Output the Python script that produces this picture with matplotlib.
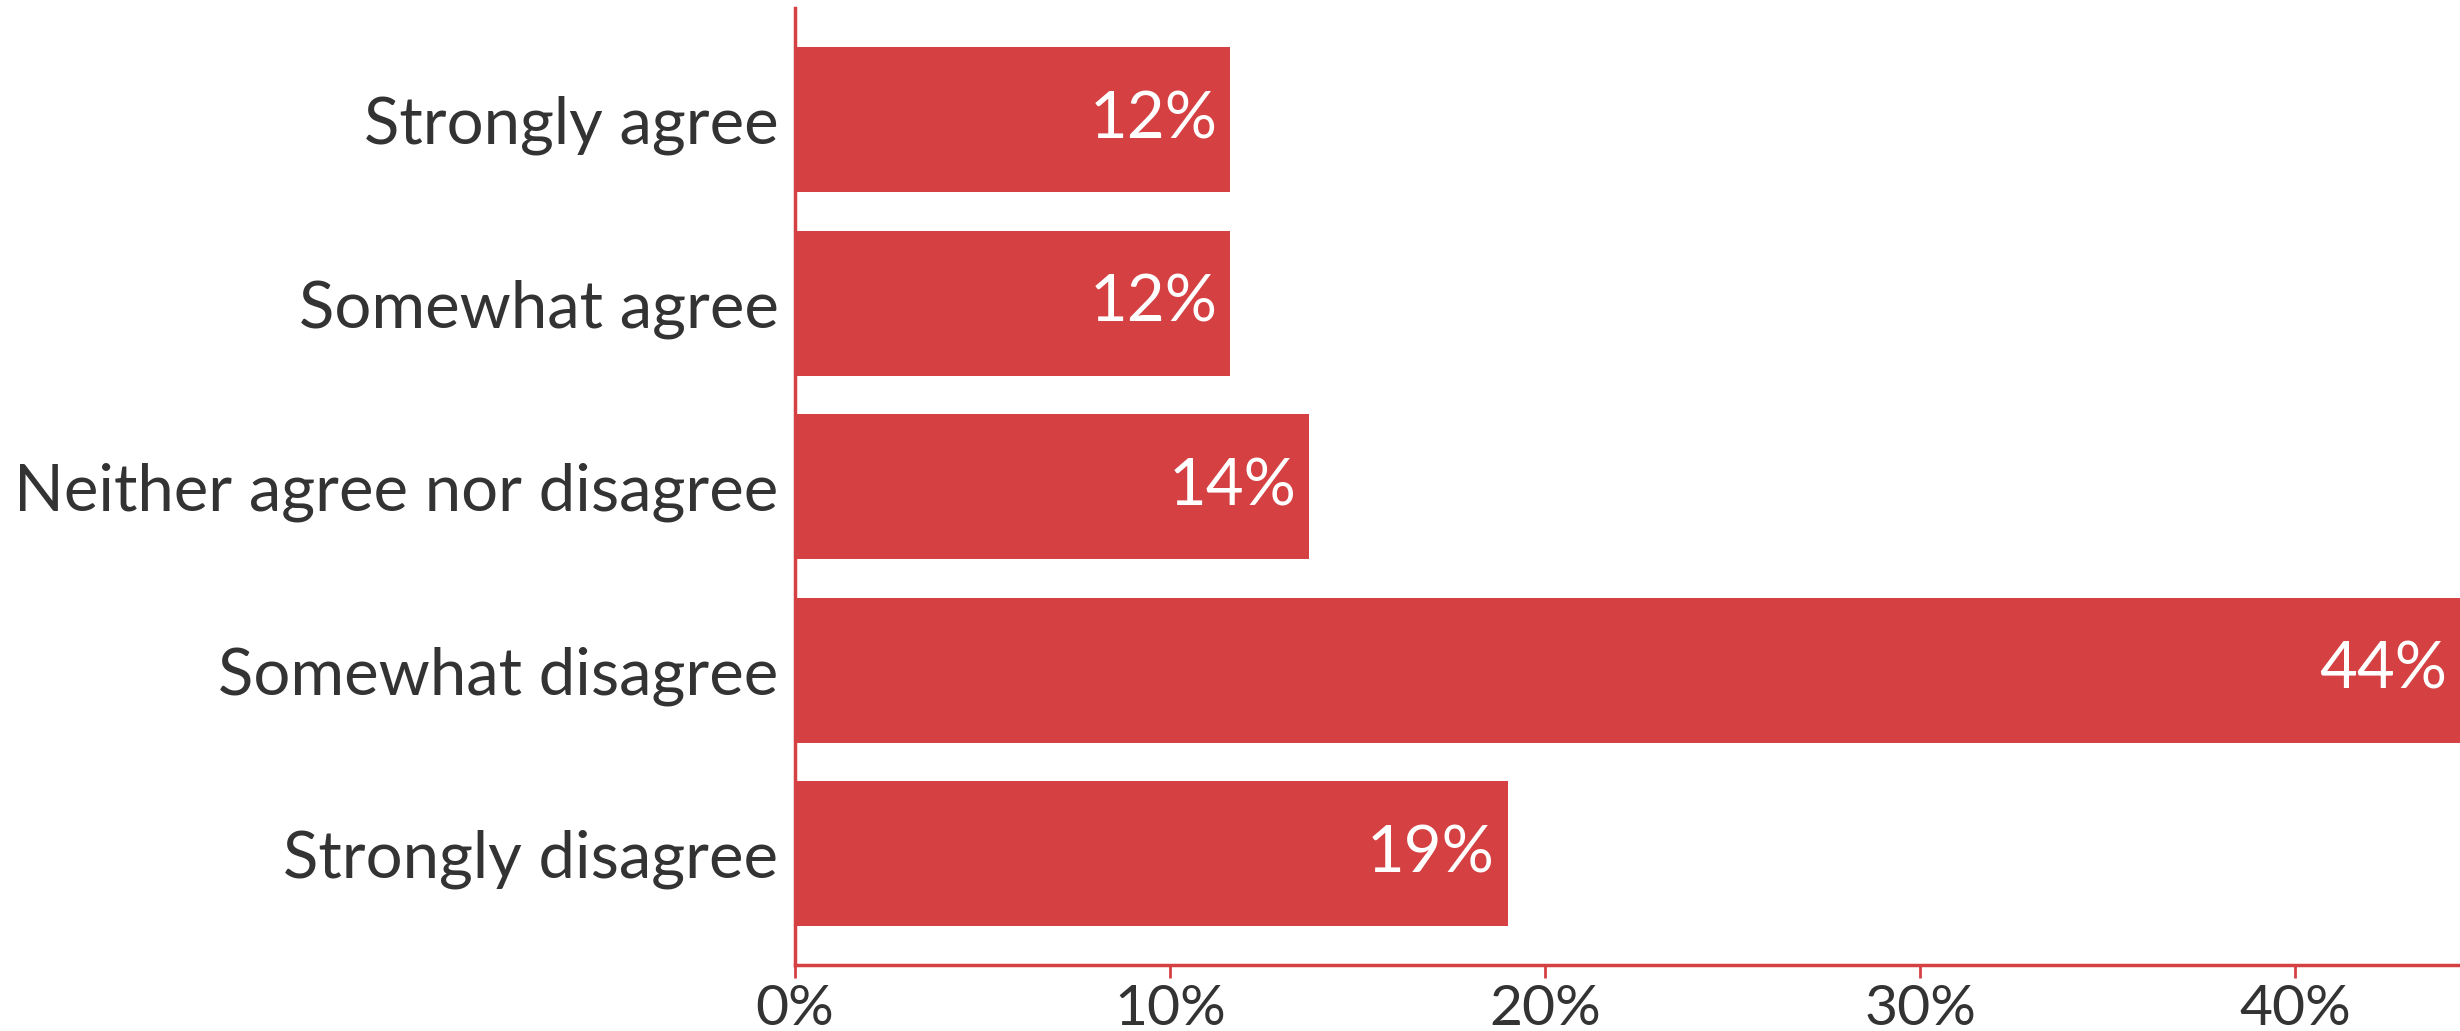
import matplotlib.pyplot as plt

categories = ["Strongly agree", "Somewhat agree", "Neither agree nor disagree",
              "Somewhat disagree", "Strongly disagree"]
values = [11.6, 11.6, 13.7, 44.4, 19.0]
labels = ["12%", "12%", "14%", "44%", "19%"]
xticks = [0, 10, 20, 30, 40]

red = "#d54042"
text_col = "#333333"

plt.rcParams['font.family'] = ['Lato', 'DejaVu Sans']

fig = plt.figure(figsize=(24.6, 10.31), dpi=100)
ax = fig.add_axes([0.3232, 0.064, 0.6768, 0.928])

ypos = list(range(len(categories)))
ax.barh(ypos, values, height=0.79, color=red)

for y, v, lab in zip(ypos, values, labels):
    ax.annotate(lab, xy=(v, y), xytext=(-9, 0), textcoords="offset points",
                ha="right", va="center", color="white", fontsize=47)

ax.set_xlim(0, 44.4)
ax.set_ylim(4.607, -0.607)
ax.set_yticks(ypos)
ax.set_yticklabels(categories, fontsize=47, color=text_col)
ax.set_xticks(xticks)
ax.set_xticklabels([f"{t}%" for t in xticks], fontsize=41, color=text_col)

ax.tick_params(axis="y", length=0, pad=12)
ax.tick_params(axis="x", length=9, width=2, color=red, pad=5)

for s in ["top", "right"]:
    ax.spines[s].set_visible(False)
for s in ["left", "bottom"]:
    ax.spines[s].set_color(red)
    ax.spines[s].set_linewidth(2.5)

fig.savefig("out.png", dpi=100)
